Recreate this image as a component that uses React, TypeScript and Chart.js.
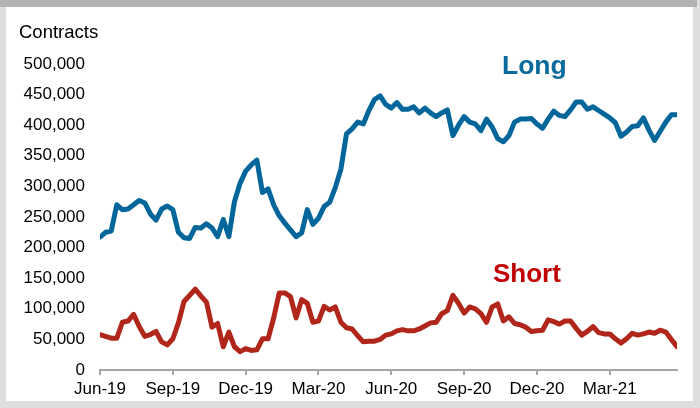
import React, { useEffect, useRef } from "react";
import { Chart, registerables } from "chart.js";

Chart.register(...registerables);

const longSeries = [
  217, 225, 227, 270, 262, 263, 270, 277, 273, 255, 245, 263, 268, 262, 225, 216, 215, 233, 232, 239,
  232, 218, 246, 218, 275, 305, 325, 335, 343, 290, 296, 270, 252, 240, 229, 218, 224, 262, 238, 248,
  267, 274, 298, 328, 386, 394, 405, 402, 424, 442, 448, 434, 428, 437, 426, 426, 430, 420, 428, 420,
  414, 420, 425, 383, 400, 414, 405, 402, 391, 410, 397, 378, 373, 383, 405, 410, 410, 411, 402, 395,
  410, 423, 416, 414, 425, 438, 438, 426, 430, 424, 418, 412, 404, 382, 389, 398, 399, 412, 392, 375,
  390, 405, 417, 417,
].map((v) => v * 1000);

const shortSeries = [
  58, 55, 52, 52, 78, 80, 91, 71, 55, 58, 63, 46, 41, 51, 77, 112, 122, 132, 121, 111,
  70, 76, 38, 62, 38, 30, 35, 32, 33, 51, 51, 85, 126, 126, 120, 85, 115, 109, 78, 80,
  104, 98, 103, 78, 69, 67, 56, 46, 47, 47, 50, 57, 59, 64, 66, 64, 64, 67, 72, 77,
  78, 92, 97, 122, 109, 93, 103, 100, 92, 78, 103, 108, 80, 87, 76, 74, 70, 63, 64, 65,
  82, 79, 75, 80, 80, 68, 57, 63, 71, 61, 59, 59, 51, 44, 51, 60, 57, 59, 62, 60,
  65, 62, 50, 38,
].map((v) => v * 1000);

const xTickIndex = [0, 13, 26, 39, 52, 65, 78, 91];
const xTickLabels = ["Jun-19", "Sep-19", "Dec-19", "Mar-20", "Jun-20", "Sep-20", "Dec-20", "Mar-21"];

const FONT = "'Liberation Sans', Arial, sans-serif";

export default function App() {
  const ref = useRef<HTMLCanvasElement | null>(null);

  useEffect(() => {
    document.body.style.margin = "0";
    const canvas = ref.current;
    if (!canvas) return;
    const chart = new Chart(canvas, {
      type: "line",
      data: {
        datasets: [
          {
            label: "Long",
            data: longSeries.map((y, i) => ({ x: i, y })),
            borderColor: "#02669b",
            borderWidth: 5,
            pointRadius: 0,
            tension: 0,
            borderJoinStyle: "round",
            borderCapStyle: "round",
          },
          {
            label: "Short",
            data: shortSeries.map((y, i) => ({ x: i, y })),
            borderColor: "#b1261a",
            borderWidth: 5,
            pointRadius: 0,
            tension: 0,
            borderJoinStyle: "round",
            borderCapStyle: "round",
          },
        ],
      },
      options: {
        animation: false,
        responsive: false,
        maintainAspectRatio: false,
        layout: { padding: { left: 0, top: 64, right: 23, bottom: 0 } },
        plugins: { legend: { display: false }, tooltip: { enabled: false } },
        scales: {
          x: {
            type: "linear",
            min: 0,
            max: longSeries.length - 1,
            afterBuildTicks: (scale: any) => {
              scale.ticks = xTickIndex.map((v) => ({ value: v }));
            },
            afterFit: (scale: any) => {
              scale.height = 38;
            },
            ticks: {
              autoSkip: false,
              maxRotation: 0,
              padding: 4,
              color: "#000",
              font: { family: FONT, size: 17 },
              callback: (v: any) => {
                const k = xTickIndex.indexOf(Number(v));
                return k >= 0 ? xTickLabels[k] : "";
              },
            },
            grid: {
              display: true,
              drawOnChartArea: false,
              tickLength: 5,
              color: "#a6a6a6",
              lineWidth: 2,
            },
            border: { display: true, color: "#a6a6a6", width: 2 },
          },
          y: {
            min: 0,
            max: 500000,
            afterFit: (scale: any) => {
              scale.width = 100;
            },
            ticks: {
              stepSize: 50000,
              padding: 15,
              color: "#000",
              font: { family: FONT, size: 17 },
              callback: (v: any) => Number(v).toLocaleString("en-US"),
            },
            grid: { display: false, drawTicks: false },
            border: { display: false },
          },
        },
      },
    });
    return () => chart.destroy();
  }, []);

  return (
    <div style={{ position: "fixed", left: 0, top: 0, width: 700, height: 408, background: "#dedede", overflow: "hidden" }}>
      <div style={{ position: "absolute", left: 0, top: 0, width: 697, height: 7, background: "#b3b3b3" }} />
      <div style={{ position: "absolute", left: 6, top: 7, width: 687, height: 394, background: "#fff" }} />
      <canvas ref={ref} width={700} height={408} style={{ position: "absolute", left: 0, top: 0 }} />
      <div style={{ position: "absolute", left: 19, top: 22, fontFamily: FONT, fontSize: 18.5, color: "#000", lineHeight: "20px" }}>Contracts</div>
      <div style={{ position: "absolute", left: 502, top: 50, fontFamily: FONT, fontSize: 26.5, fontWeight: "bold", color: "#0a6a9c", lineHeight: "30px" }}>Long</div>
      <div style={{ position: "absolute", left: 493, top: 258, fontFamily: FONT, fontSize: 26, fontWeight: "bold", color: "#c00000", lineHeight: "30px" }}>Short</div>
    </div>
  );
}
